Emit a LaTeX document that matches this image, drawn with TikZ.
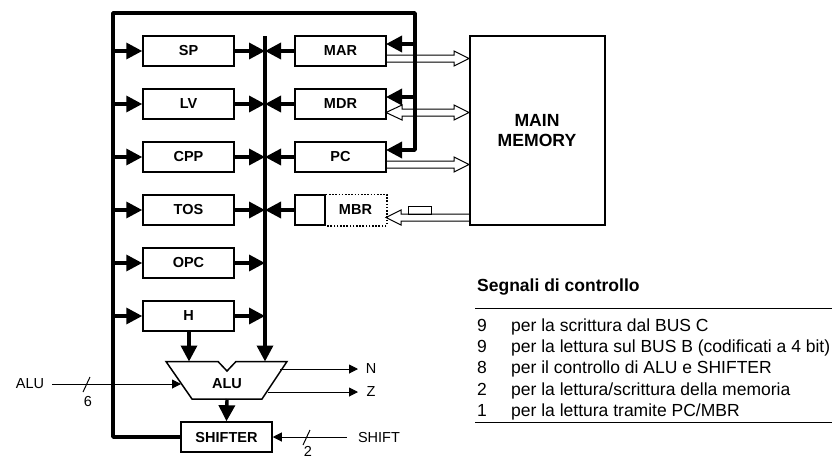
\documentclass[tikz,border=0pt]{standalone}
\usepackage{fontspec}
\setmainfont{Liberation Sans}
\usetikzlibrary{arrows.meta,calc}
\tikzset{
  x=1pt,y=-1pt,
  reg/.style={draw,line width=1.5pt,minimum width=91pt,minimum height=30pt,inner sep=0pt,font=\fontsize{14.5}{16}\selectfont\bfseries},
  bus/.style={line width=3.4pt},
  busarrow/.style={bus,-{Triangle[length=16pt,width=16pt]}},
  thin arrow/.style={line width=1pt,-{Triangle[length=9pt,width=9pt]}},
  hollow/.style={draw,fill=white,line width=1pt},
  lbl/.style={inner sep=0pt,font=\fontsize{14.5}{16}\selectfont},
  leg/.style={anchor=base west,inner sep=0pt,font=\fontsize{17.5}{20}\selectfont},
  tick/.style={line width=1pt},
}
\begin{document}
\begin{tikzpicture}
\useasboundingbox (0,0) rectangle (834,458);
% hollow arrows (under the bus)
\draw[hollow] (386,55) -- (454,55) -- (454,51) -- (469,58.5) -- (454,66) -- (454,62) -- (386,62);
\draw[hollow] (386,112.5) -- (402,105) -- (402,109) -- (454,109) -- (454,105) -- (469,112.5) -- (454,120) -- (454,116) -- (402,116) -- (402,120) -- cycle;
\draw[hollow] (386,161) -- (454,161) -- (454,157) -- (469,164.5) -- (454,172) -- (454,168) -- (386,168);
\draw[hollow] (470,214) -- (401,214) -- (401,210) -- (386,217.5) -- (401,225) -- (401,221) -- (470,221) -- cycle;
\node[draw,line width=.9pt,minimum width=23pt,minimum height=8pt,inner sep=0pt] (rect) at (419.5,210) {};
% registers
\foreach \n/\t/\y in {sp/SP/51,lv/LV/104,cpp/CPP/157,tos/TOS/210,opc/OPC/263,h/H/316}
  \node[reg] (\n) at (188.5,\y) {\t};
\foreach \n/\t/\y in {mar/MAR/51,mdr/MDR/104,pc/PC/157}
  \node[reg] (\n) at (340.5,\y) {\t};
\node[reg,minimum width=30pt] (mbrl) at (310,210) {};
\node[reg,minimum width=61pt,draw=none] (mbr) at (355.5,210) {MBR};
\draw[line width=1.5pt,dash pattern=on 1.6pt off 1.6pt] (mbrl.north east) -- (mbr.north east) -- (mbr.south east) -- (mbrl.south east);
% alu, shifter, memory
\node[reg] (shifter) at (226.5,437) {SHIFTER};
\draw[line width=1.5pt,fill=white] (166,361.5) -- (218,361.5) -- (227,371) -- (236,361.5) -- (287,361.5) -- (262,399) -- (192,399) -- cycle;
\node[lbl,font=\fontsize{14.5}{16}\selectfont\bfseries] (alu) at (227,384) {ALU};
\coordinate (alutl) at (189,361.5);
\coordinate (alutr) at (265,361.5);
\coordinate (alubot) at (227,399);
\node[draw,line width=1.5pt,minimum width=135pt,minimum height=189pt,inner sep=0pt] (mem) at (537.5,130.5) {};
\node[inner sep=0pt,align=center,font=\fontsize{17.6}{20.5}\selectfont\bfseries] (memt) at (537,130.5) {MAIN\\MEMORY};
% buses
\coordinate (bt) at (113,13);
\coordinate (brt) at (415,13);
\coordinate (brb) at (415,150);
\coordinate (mb) at (265,36);
\draw[bus,line join=round] (shifter.west) -- (113,437) -- (bt) -- (brt) -- (brb) -- (395,150);
\draw[busarrow] (brb) -- (386,150);
\draw[busarrow] (415,44) -- (386,44);
\draw[busarrow] (415,97) -- (386,97);
\draw[bus] (mb) -- (265,345);
\draw[busarrow] (265,340) -- (alutr);
\foreach \n in {sp,lv,cpp,tos,opc,h}{
  \draw[busarrow] (\n.west -| bt) -- (\n.west);
  \draw[busarrow] (\n.east) -- (\n.east -| mb);
}
\foreach \n in {mar,mdr,pc,mbrl}
  \draw[busarrow] (\n.west) -- (\n.west -| mb);
\draw[busarrow] (h.south -| alutl) -- (alutl);
\draw[busarrow] (alubot) -- (shifter.north);
% thin signals
\node[lbl] (alul) at (30,384) {ALU};
\node[lbl] (n) at (371,369) {N};
\node[lbl] (z) at (371,392) {Z};
\node[lbl] (shl) at (379,437) {SHIFT};
\node[lbl] (six) at (88,402) {6};
\node[lbl] (two) at (308,451.5) {2};
\coordinate (alui) at (181,384);
\coordinate (nstart) at (280,369);
\coordinate (zstart) at (268,392);
\draw[thin arrow] (alul.east)+(8,0) -- (alui);
\draw[thin arrow] (nstart) -- (n.west -| 358,0);
\draw[thin arrow] (zstart) -- (z.west -| 358,0);
\draw[thin arrow] (shl.west)+(-11,0) -- (shifter.east);
\draw[tick] (83,392) -- (90,377);
\draw[tick] (303,445) -- (310,430);
% legend
\node[anchor=west,inner sep=0pt,font=\fontsize{17.5}{20}\selectfont\bfseries] (title) at (477,287) {Segnali di controllo};
\coordinate (r1) at (475,308.5);
\coordinate (r2) at (832,308.5);
\draw[line width=.8pt] (r1) -- (r2);
\foreach \k/\t/\y in {9/per la scrittura dal BUS C/325,9/per la lettura sul BUS B (codificati a 4 bit)/346,8/per il controllo di ALU e SHIFTER/367,2/per la lettura\slash scrittura della memoria/389,1/per la lettura tramite PC\slash MBR/410}{
  \node[leg] at (477,\y+6) {\k};
  \node[leg] at (511,\y+6) {\t};
}
\coordinate (r3) at (475,422);
\coordinate (r4) at (832,422);
\draw[line width=.8pt] (r3) -- (r4);
\end{tikzpicture}
\end{document}
